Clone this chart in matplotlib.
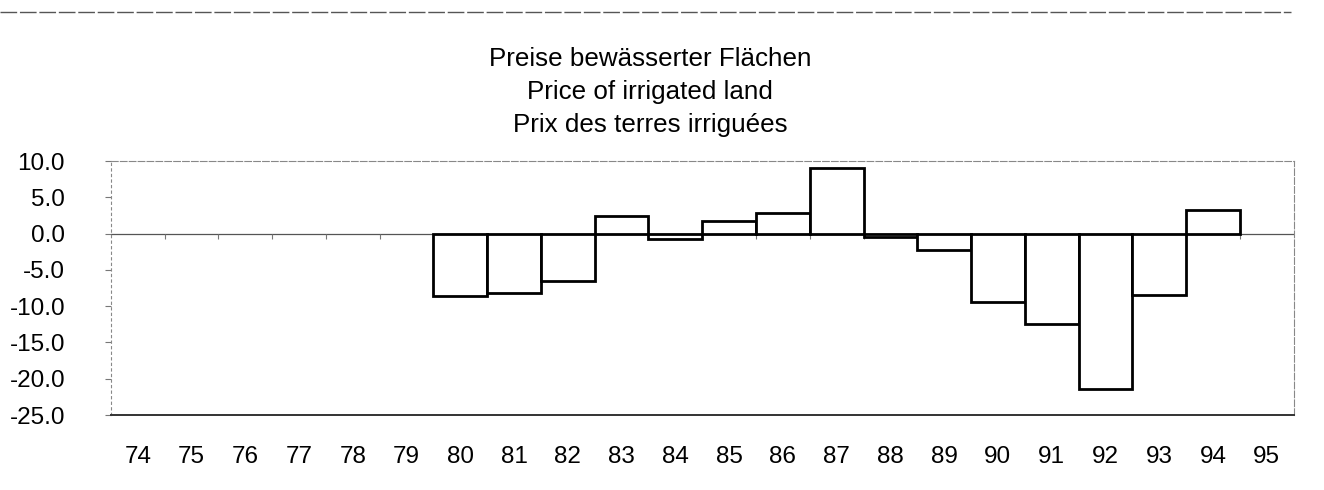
import numpy as np
import matplotlib
matplotlib.use('Agg')
import matplotlib.pyplot as plt

plt.rcParams['font.family'] = ['Liberation Sans', 'DejaVu Sans']

# years shown on the category axis
years = ['74', '75', '76', '77', '78', '79', '80', '81', '82', '83', '84',
         '85', '86', '87', '88', '89', '90', '91', '92', '93', '94', '95']
# price change (%) for years with data
data_years = ['80', '81', '82', '83', '84', '85', '86', '87',
              '88', '89', '90', '91', '92', '93', '94']
values = [-8.6, -8.2, -6.5, 2.4, -0.8, 1.8, 2.9, 9.1,
          -0.5, -2.2, -9.4, -12.4, -21.4, -8.4, 3.2]
titles = ['Preise bewässerter Flächen', 'Price of irrigated land',
          'Prix des terres irriguées']
yticks = [10, 5, 0, -5, -10, -15, -20, -25]

fig = plt.figure(figsize=(13.24, 4.9), dpi=100)
ax = fig.add_axes([0.0838, 0.153, 0.8932, 0.5184])

xpos = np.arange(len(years))
bar_x = [years.index(y) for y in data_years]

# zero line
ax.axhline(0, color='#555555', lw=0.9, zorder=1)
# small boundary ticks on zero line
bounds = xpos[1:] - 0.5
ax.vlines(bounds, -0.7, 0, color='#777777', lw=0.8, zorder=1)

ax.bar(bar_x, values, width=1.0, color='white', edgecolor='black',
       linewidth=2.0, zorder=2)

ax.set_xlim(-0.5, len(years) - 0.5)
ax.set_ylim(-25, 10)
ax.set_xticks(xpos)
ax.set_xticklabels(years)
ax.set_yticks(yticks)
ax.set_yticklabels(['%.1f' % v for v in yticks])
ax.tick_params(axis='x', length=0, pad=22, labelsize=17.5)
ax.tick_params(axis='y', length=4, pad=29, labelsize=17.5, color='#777777',
               width=0.8)

for side in ['top', 'right', 'left']:
    ax.spines[side].set_color('#888888')
    ax.spines[side].set_linewidth(0.8)
    ax.spines[side].set_linestyle((0, (6, 2)))
ax.spines['left'].set_linestyle((0, (2, 3)))
ax.spines['bottom'].set_color('#333333')
ax.spines['bottom'].set_linewidth(1.4)

for i, t in enumerate(titles):
    fig.text(0.491, 0.879 - i * 0.067, t, ha='center', va='center',
             fontsize=18.7)

# page frame line from the scan
fig.add_artist(plt.Line2D([0.0, 0.975], [0.975, 0.975], color='#555555',
                          lw=1.0, linestyle=(0, (12, 2))))

fig.savefig('out.png', dpi=100)
